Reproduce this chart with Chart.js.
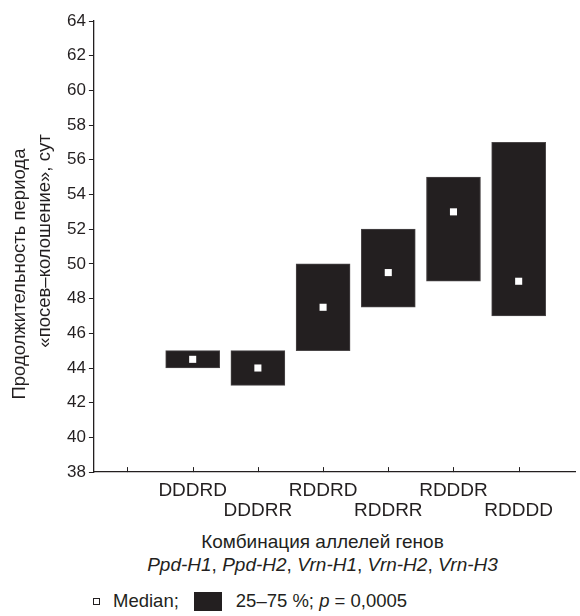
<!DOCTYPE html>
<html>
<head>
<meta charset="utf-8">
<script src="https://cdn.jsdelivr.net/npm/chart.js@4/dist/chart.umd.min.js"></script>
<style>
  body { margin: 0; background: #fff; }
  #wrap { position: relative; width: 580px; height: 616px; font-family: "Liberation Sans", Arial, sans-serif; color: #231f20; }
  #box { position: absolute; left: 0; top: 0; width: 580px; height: 530px; }
  .ytitle { position: absolute; white-space: nowrap; font-size: 18.5px; transform: translate(-50%, -50%) rotate(-90deg); }
  .xtitle { position: absolute; left: 0; width: 645px; text-align: center; font-size: 19px; white-space: nowrap; }
  #legend { position: absolute; left: 93px; top: 590px; font-size: 18.5px; white-space: nowrap; display: flex; align-items: center; }
  .med { display: inline-block; width: 5px; height: 5px; border: 1px solid #231f20; margin-right: 13px; }
  .iqr { display: inline-block; width: 28px; height: 19px; background: #231f20; margin: 0 14px 0 15px; }
</style>
</head>
<body>
<div id="wrap">
  <div id="box"><canvas id="chart"></canvas></div>
  <div class="ytitle" style="left:19px; top:274px;">Продолжительность периода</div>
  <div class="ytitle" style="left:44px; top:241px;">«посев–колошение», сут</div>
  <div class="xtitle" style="top:531px;">Комбинация аллелей генов</div>
  <div class="xtitle" style="top:554px;"><i>Ppd-H1</i>, <i>Ppd-H2</i>, <i>Vrn-H1</i>, <i>Vrn-H2</i>, <i>Vrn-H3</i></div>
  <div id="legend"><span class="med"></span>Median;<span class="iqr"></span>25–75 %;&nbsp; <i>p</i>&nbsp;= 0,0005</div>
</div>
<script>
// allele combinations (position 0 on the axis is an empty slot)
const combos = ['DDDRD', 'DDDRR', 'RDDRD', 'RDDRR', 'RDDDR', 'RDDDD'];
const q25 = [44, 43, 45, 47.5, 49, 47];
const q75 = [45, 45, 50, 52, 55, 57];
const medians = [44.5, 44, 47.5, 49.5, 53, 49];

const ink = '#231f20';

// little ticks pointing up into the plot on the x axis
const innerTicks = {
    id: 'innerTicks',
    afterDraw(chart) {
        const xs = chart.scales.x;
        const ctx = chart.ctx;
        ctx.save();
        ctx.strokeStyle = ink;
        ctx.lineWidth = 1;
        xs.ticks.forEach((t) => {
            const px = Math.round(xs.getPixelForValue(t.value)) + 0.5;
            ctx.beginPath();
            ctx.moveTo(px, xs.top);
            ctx.lineTo(px, xs.top - 5);
            ctx.stroke();
        });
        ctx.restore();
    }
};

new Chart(document.getElementById('chart').getContext('2d'), {
    type: 'bar',
    data: {
        datasets: [
            {
                label: '25–75 %',
                data: combos.map((c, i) => ({x: i + 1, y: [q25[i], q75[i]]})),
                backgroundColor: ink,
                borderColor: '#4a4647',
                borderWidth: 1,
                borderSkipped: false,
                barThickness: 54,
                order: 2,
            },
            {
                label: 'Median',
                type: 'scatter',
                data: combos.map((c, i) => ({x: i + 1, y: medians[i]})),
                pointStyle: 'rect',
                pointRadius: 5,
                pointBackgroundColor: '#fff',
                pointBorderWidth: 0,
                order: 1,
            },
        ],
    },
    options: {
        responsive: true,
        maintainAspectRatio: false,
        animation: false,
        layout: {
            padding: {top: 21, right: 0, left: 64, bottom: 0}
        },
        plugins: {
            legend: {display: false},
            tooltip: {enabled: false},
        },
        scales: {
            x: {
                type: 'linear',
                offset: false,
                min: -0.515,
                max: 6.864,
                ticks: {
                    stepSize: 1,
                    includeBounds: false,
                    autoSkip: false,
                    maxRotation: 0,
                    color: ink,
                    font: {family: '"Liberation Sans", Arial, sans-serif', size: 19, lineHeight: 1.05},
                    padding: 9,
                    callback: function(value) {
                        if (value < 1) return '';
                        const name = combos[value - 1];
                        return value % 2 === 0 ? ['', name] : [name, ''];
                    }
                },
                grid: {display: true, drawOnChartArea: false, drawTicks: false},
                border: {color: ink, width: 1.3},
            },
            y: {
                min: 38,
                max: 64,
                ticks: {
                    stepSize: 2,
                    color: ink,
                    font: {family: '"Liberation Sans", Arial, sans-serif', size: 17},
                    padding: 3,
                },
                grid: {drawOnChartArea: false, tickLength: 5, color: ink},
                border: {color: ink, width: 1.3},
            }
        }
    },
    plugins: [innerTicks]
});
</script>
</body>
</html>
